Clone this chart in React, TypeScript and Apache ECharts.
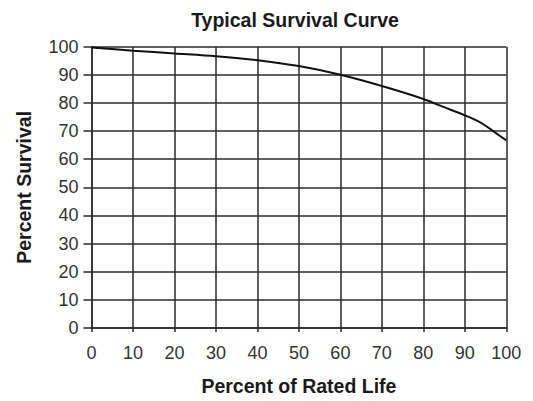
import React, { useEffect, useRef } from "react";
import * as echarts from "echarts";

const titleText = "Typical Survival Curve";
const xAxisName = "Percent of Rated Life";
const yAxisName = "Percent Survival";
const lifePercent = [0, 10, 20, 30, 40, 50, 60, 70, 80, 85, 90, 93.5, 95, 97.5, 100];
const survivalPercent = [99.7, 98.6, 97.6, 96.6, 95.2, 93.1, 90.0, 86.0, 81.4, 78.5, 75.6, 73.3, 71.9, 69.3, 66.7];

const FONT = "'Liberation Sans', Arial, Helvetica, sans-serif";

export default function App() {
  const ref = useRef<HTMLDivElement>(null);
  useEffect(() => {
    if (!ref.current) return;
    const chart = echarts.init(ref.current, undefined, { renderer: "svg" });
    const data = lifePercent.map((x, i) => [x, survivalPercent[i]]);
    chart.setOption({
      animation: false,
      backgroundColor: "#ffffff",
      textStyle: { fontFamily: FONT },
      title: {
        text: titleText,
        left: 290,
        textAlign: "center",
        top: 5,
        textStyle: { fontFamily: FONT, fontSize: 19.5, fontWeight: "bold", color: "#1a1a1a" },
      },
      grid: { left: 91.5, right: 26.7, top: 46.7, bottom: 63.7, containLabel: false },
      xAxis: {
        type: "value",
        min: 0,
        max: 100,
        interval: 10,
        name: xAxisName,
        nameLocation: "middle",
        nameGap: 48,
        nameTextStyle: { fontFamily: FONT, fontSize: 19.5, fontWeight: "bold", color: "#1a1a1a" },
        axisLine: { show: true, lineStyle: { color: "#2a2a2a", width: 1.5 } },
        axisTick: { show: true, length: 4, lineStyle: { color: "#2a2a2a", width: 1.5 } },
        axisLabel: { fontFamily: FONT, fontSize: 18, color: "#333333", margin: 16 },
        splitLine: { show: true, lineStyle: { color: "#2a2a2a", width: 1.5 } },
      },
      yAxis: {
        type: "value",
        min: 0,
        max: 100,
        interval: 10,
        name: yAxisName,
        nameLocation: "middle",
        nameGap: 58,
        nameRotate: 90,
        nameTextStyle: { fontFamily: FONT, fontSize: 19.5, fontWeight: "bold", color: "#1a1a1a" },
        axisLine: { show: true, lineStyle: { color: "#2a2a2a", width: 1.5 } },
        axisTick: { show: true, length: 8, lineStyle: { color: "#2a2a2a", width: 1.5 } },
        axisLabel: { fontFamily: FONT, fontSize: 18, color: "#333333", margin: 13 },
        splitLine: { show: true, lineStyle: { color: "#2a2a2a", width: 1.5 } },
      },
      series: [
        {
          type: "line",
          data,
          smooth: 0.3,
          symbol: "none",
          lineStyle: { color: "#111111", width: 2 },
        },
      ],
    });
    return () => chart.dispose();
  }, []);
  return <div ref={ref} style={{ position: "fixed", left: 0, top: 0, width: 533, height: 401 }} />;
}
